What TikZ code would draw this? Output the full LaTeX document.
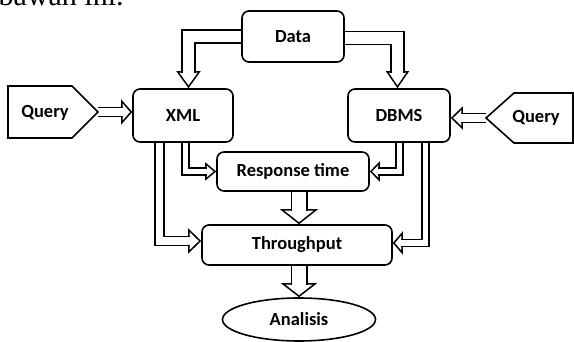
\documentclass[tikz,border=0pt]{standalone}
\usepackage{fontspec}
\setmainfont{Carlito}
\newfontfamily\capfont{Liberation Serif}
\usetikzlibrary{arrows.meta,shapes.geometric,backgrounds}
\tikzset{
  blk/.style={draw,line width=1.6pt,rounded corners=7pt,fill=white,inner sep=0pt,font=\fontsize{18.5}{20}\selectfont\bfseries},
  oval/.style={blk,ellipse,sharp corners},
  qshape/.style={draw,line width=1.6pt,fill=white,line join=miter},
  dlab/.style={font=\fontsize{18.5}{20}\selectfont\bfseries},
  harr/.style n args={3}{line width=1.5pt,-{Triangle[open,fill=white,width=#2,length=#3,line width=1.5pt]},
    postaction={draw,-,double=white,double distance=#1,shorten >=#3-1.8pt}}
}
\begin{document}
\begin{tikzpicture}[x=1pt,y=1pt]
  \useasboundingbox (0,0) rectangle (574,342);
  % caption line cut off above the figure
  \node[anchor=base west,inner sep=0pt,font=\capfont\fontsize{30}{32}\selectfont] (cap) at (-1.5,336) {bawah ini.};

  \node[blk,minimum width=102,minimum height=51] (data) at (293,305.5) {Data};
  \node[blk,minimum width=100,minimum height=53] (xml) at (183,226.5) {XML};
  \node[blk,minimum width=102,minimum height=53] (dbms) at (399,226.5) {DBMS};
  \node[blk,minimum width=152,minimum height=39] (resp) at (293,170.5) {Response time};
  \node[blk,minimum width=190,minimum height=40] (thr) at (297,97) {Throughput};
  \node[oval,minimum width=153,minimum height=43] (ana) at (299,22.5) {Analisis};

  % query inputs
  \draw[qshape] (8,256) -- (72,256) -- (98,230) -- (72,204) -- (8,204) -- cycle;
  \node[dlab] (qleft) at (45,229) {Query};
  \coordinate (qltip) at (98,230);
  \draw[qshape] (573,249) -- (514,249) -- (486,224) -- (514,199) -- (573,199) -- cycle;
  \node[dlab] (qright) at (536,224) {Query};
  \coordinate (qrtip) at (486,224);

  \begin{pgfonlayer}{background}
    \draw[harr={11.5pt}{24pt}{17pt}] (data.west) -| ([xshift=5.5]xml.north);
    \draw[harr={11.5pt}{23pt}{17pt}] ([yshift=-1.5]data.east) -| ([xshift=-1.5]dbms.north);
    \draw[harr={7.5pt}{25pt}{11pt}] (qltip) -- ([yshift=3.5]xml.west);
    \draw[harr={7.5pt}{23pt}{12pt}] (qrtip) -- ([yshift=-2.5]dbms.east);
    \draw[harr={5.5pt}{18pt}{11pt}] ([xshift=2.5]xml.south) |- (resp.west);
    \draw[harr={7.5pt}{25pt}{13pt}] ([xshift=-23.5]xml.south) |- ([yshift=4]thr.west);
    \draw[harr={5.5pt}{20pt}{10pt}] ([xshift=0.5]dbms.south) |- (resp.east);
    \draw[harr={5.5pt}{23pt}{10pt}] ([xshift=26.5]dbms.south) |- ([yshift=2]thr.east);
    \draw[harr={14pt}{38pt}{15pt}] ([xshift=6]resp.south) -- ([xshift=2]thr.north);
    \draw[harr={14pt}{36pt}{14pt}] ([xshift=2]thr.south) -- (ana.north);
  \end{pgfonlayer}
\end{tikzpicture}
\end{document}
